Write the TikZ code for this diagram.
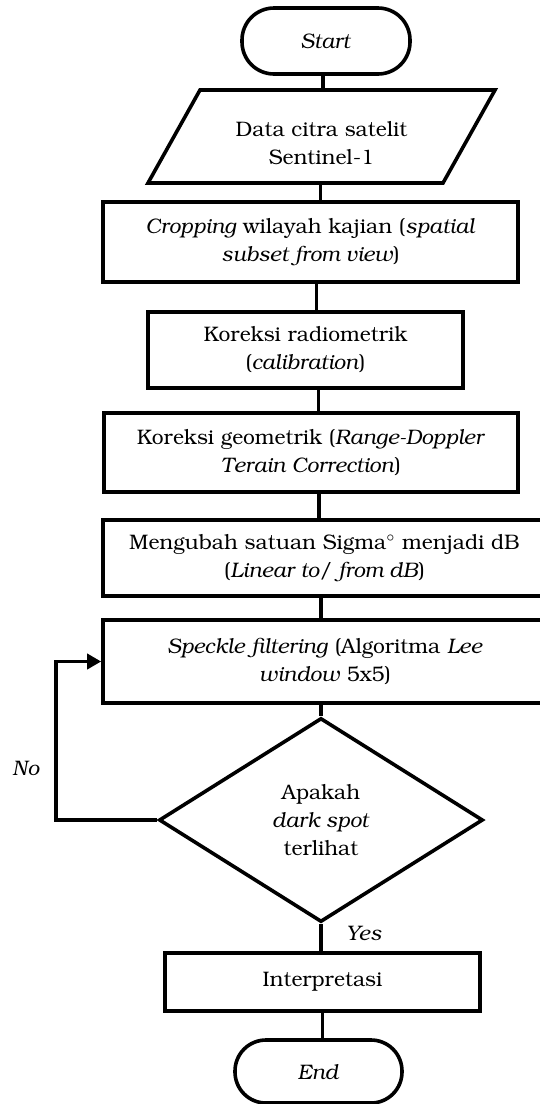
\documentclass[tikz,border=0pt]{standalone}
\usepackage[T1]{fontenc}
\usepackage{bookman}
\usetikzlibrary{shapes.geometric,arrows.meta}

\begin{document}
\begin{tikzpicture}[x=0.5pt, y=-0.5pt, line width=1.8pt,
 font=\fontsize{10.5}{14}\selectfont,
 kotak/.style={draw, rectangle, align=center, inner sep=2pt},
 terminal/.style={draw, rectangle, rounded corners=16pt, minimum width=84pt, minimum height=33pt},
 keputusan/.style={draw, diamond, align=center, aspect=1.6, inner sep=0pt, minimum width=162pt, minimum height=102pt},
 panah/.style={-{Triangle[length=7pt,width=7.5pt]}}]
 \useasboundingbox (0,0) rectangle (540,1104);
 \node[terminal] (start) at (326,41) {\textit{Start}};
 \coordinate (da) at (200,90);
 \coordinate (db) at (495,90);
 \coordinate (dc) at (443,183);
 \coordinate (dd) at (148,183);
 \draw (da) -- (db) -- (dc) -- (dd) --cycle;
 \node[align=center] (data) at (321.5,143) {Data citra satelit\\Sentinel-1};
 \node[kotak, minimum width=207.5pt, minimum height=40pt] (crop) at (310.5,242)
   {\textit{Cropping} wilayah kajian (\textit{spatial}\\\textit{subset from view})};
 \node[kotak, minimum width=157.5pt, minimum height=38pt] (radio) at (305.5,350)
   {Koreksi radiometrik\\(\textit{calibration})};
 \node[kotak, minimum width=207pt, minimum height=39.5pt] (geo) at (311,452.5)
   {Koreksi geometrik (\textit{Range-Doppler}\\\textit{Terain Correction})};
 \node[kotak, minimum width=221.5pt, minimum height=38pt] (sigma) at (324.5,558)
   {Mengubah satuan Sigma$^\circ$ menjadi dB\\(\textit{Linear to/ from dB})};
 \node[kotak, minimum width=222pt, minimum height=41.5pt] (speckle) at (325,661.5)
   {\textit{Speckle filtering} (Algoritma \textit{Lee}\\\textit{window} 5x5)};
 \node[keputusan] (cek) at (321,820) {Apakah\\\textit{dark spot}\\terlihat};
 \node[kotak, minimum width=157.5pt, minimum height=29pt] (interp) at (322.5,982) {Interpretasi};
 \node[terminal, rounded corners=15.5pt, minimum width=83.5pt, minimum height=31.5pt] (end) at (318.5,1071.5) {\textit{End}};
 \node (no) at (26,769) {\textit{No}};
 \node (yes) at (364,934) {\textit{Yes}};
 \coordinate (belok) at (56,820);
 % garis alur
 \draw ([xshift=-1.5pt]start.south) -- ([xshift=-1.5pt]start.south |- da);
 \draw ([xshift=-0.5pt]data.south |- dd) -- ([xshift=-0.5pt]data.south |- crop.north);
 \draw ([xshift=3pt]crop.south) -- ([xshift=3pt]crop.south |- radio.north);
 \draw ([xshift=6.5pt]radio.south) -- ([xshift=6.5pt]radio.south |- geo.north);
 \draw ([xshift=4pt]geo.south) -- ([xshift=4pt]geo.south |- sigma.north);
 \draw (sigma.south -| cek) -- (cek.north |- speckle.north);
 \draw (speckle.south -| cek) -- (cek.north);
 \draw (cek.south) -- (cek.south |- interp.north);
 \draw (interp.south) -- (interp.south |- end.north);
 \draw[panah] (cek.west) -- (belok) |- (speckle.west);
\end{tikzpicture}
\end{document}
